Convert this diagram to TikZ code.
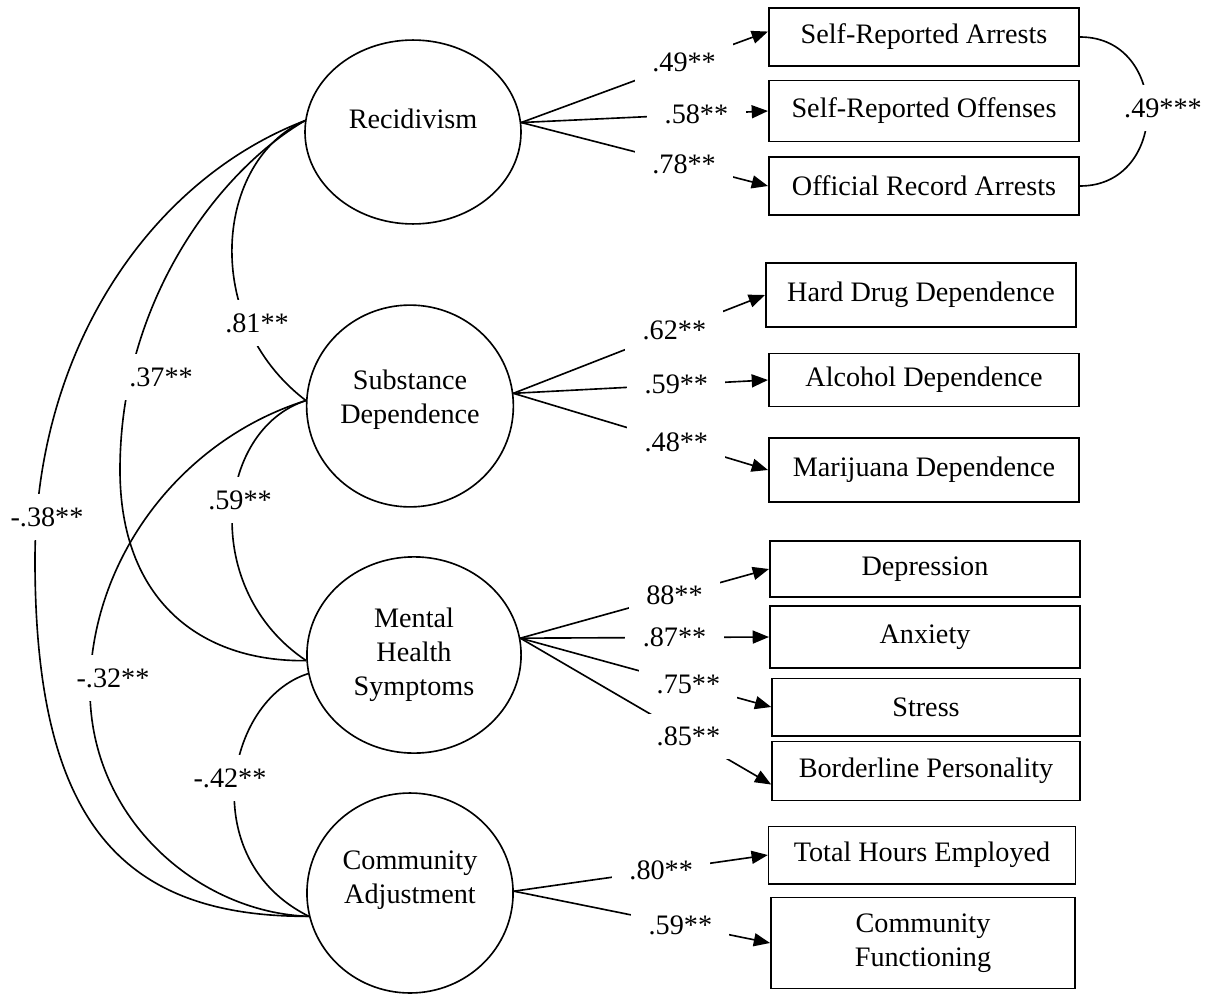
\documentclass[tikz,border=0pt]{standalone}
\usepackage{fontspec}
\setmainfont{Liberation Serif}
\usetikzlibrary{shapes.geometric, arrows.meta}

\begin{document}
\begin{tikzpicture}[x=0.0162cm, y=-0.0162cm, line width=0.75pt,
        font=\fontsize{13pt}{15.6pt}\selectfont,
        >={Triangle[length=7.5pt, width=6pt]},
        latent/.style={draw, ellipse, align=center, inner sep=0pt},
        measure/.style={draw, rectangle, align=center, minimum width=5.03cm, minimum height=0.93cm},
        coef/.style={fill=white, inner xsep=8pt, inner ysep=6pt}]
        \useasboundingbox (0,0) rectangle (1218,994);

        \node[latent, minimum width=3.5cm, minimum height=2.98cm, text depth=12pt] (rec) at (413,132) {Recidivism};
        \node[latent, minimum width=3.35cm, minimum height=3.27cm, text depth=8.8pt] (sub) at (410,406) {Substance\\Dependence};
        \node[latent, minimum width=3.47cm, minimum height=3.18cm] (mhs) at (414,655) {Mental\\Health\\Symptoms};
        \node[latent, minimum width=3.34cm, minimum height=3.24cm, text depth=14.8pt] (cadj) at (410,893) {Community\\Adjustment};

        \node[measure] (sra) at (924,37) {Self-Reported Arrests};
        \node[measure, minimum height=0.99cm] (sro) at (924,111) {Self-Reported Offenses};
        \node[measure] (ora) at (924,186) {Official Record Arrests};
        \node[measure, minimum height=1.04cm] (hdd) at (921,295) {Hard Drug Dependence};
        \node[measure, minimum height=0.86cm] (alc) at (924,380) {Alcohol Dependence};
        \node[measure, minimum height=1.04cm] (mar) at (924,470) {Marijuana Dependence};
        \node[measure, minimum height=0.91cm] (dep) at (925,569) {Depression};
        \node[measure, minimum height=1.0cm] (anx) at (925,637) {Anxiety};
        \node[measure, minimum width=4.99cm] (str) at (926,707) {Stress};
        \node[measure, minimum width=4.99cm, minimum height=0.96cm] (bpd) at (926,771) {Borderline Personality};
        \node[measure, minimum width=4.97cm] (the) at (922,855) {Total Hours Employed};
        \node[measure, minimum width=4.93cm, minimum height=1.47cm] (cfn) at (923,943) {Community\\Functioning};

        \draw[->] (rec.5) -- (sra.178) node[coef, pos=0.66] (l49) {.49**};
        \draw[->] (rec.5) -- (sro.west) node[coef, pos=0.71] (l58) {.58**};
        \draw[->] (rec.5) -- (ora.west) node[coef, pos=0.66] (l78) {.78**};
        \draw[->] (sub.7) -- (hdd.west) node[coef, pos=0.64] (l62) {.62**};
        \draw[->] (sub.7) -- (alc.west) node[coef, pos=0.64] (l59) {.59**};
        \draw[->] (sub.7) -- (mar.west) node[coef, pos=0.64] (l48) {.48**};
        \draw[->] (mhs.9) -- (dep.west) node[coef, pos=0.62] (l88) {88**};
        \draw[->] (mhs.9) -- (anx.west) node[coef, pos=0.62] (l87) {.87**};
        \draw[->] (mhs.9) -- (str.west) node[coef, pos=0.67] (l75) {.75**};
        \draw[->] (mhs.9) -- (bpd.185) node[coef, pos=0.67] (l85) {.85**};
        \draw[->] (cadj.1) -- (the.west) node[coef, pos=0.58] (l80) {.80**};
        \draw[->] (cadj.1) -- (cfn.west) node[coef, pos=0.65] (l59b) {.59**};

        \draw (rec.174) .. controls (150,180) and (35,350) .. (35,560) .. controls (35,820) and (120,917) .. (cadj.193);
        \draw (rec.174) .. controls (220,170) and (120,300) .. (120,470) .. controls (120,600) and (200,662) .. (mhs.183);
        \draw (rec.174) .. controls (215,160) and (200,320) .. (sub.177);
        \draw (sub.177) .. controls (215,430) and (200,590) .. (mhs.183);
        \draw (sub.177) .. controls (180,440) and (90,560) .. (90,690) .. controls (90,820) and (200,913) .. (cadj.193);
        \draw (mhs.190) .. controls (225,700) and (195,860) .. (cadj.193);
        \draw (sra.east) .. controls +(90,0) and +(90,0) .. (ora.east);

        \node[coef] (c81) at (257,323) {.81**};
        \node[coef] (c37) at (161,377) {.37**};
        \node[coef] (c38) at (47,517) {-.38**};
        \node[coef] (c59) at (240,500) {.59**};
        \node[coef] (c32) at (113,678) {-.32**};
        \node[coef] (c42) at (230,778) {-.42**};
        \node[coef] (c49) at (1163,108) {.49***};
    \end{tikzpicture}
\end{document}
